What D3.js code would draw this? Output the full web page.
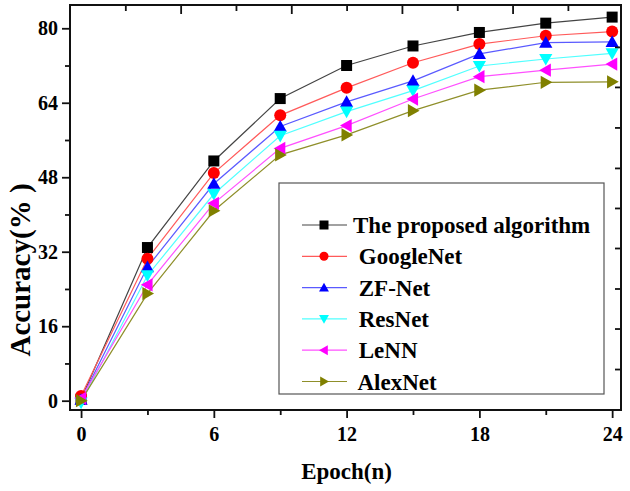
<!DOCTYPE html>
<html><head><meta charset="utf-8">
<script src="https://cdn.jsdelivr.net/npm/d3@7"></script>
<style>body{margin:0;background:#fff}svg{display:block}</style>
</head><body>
<svg id="c" width="630" height="491"></svg>
<script>
const epochs = [0, 3, 6, 9, 12, 15, 18, 21, 24];
const seriesNames = ["The proposed algorithm", " GoogleNet", " ZF-Net", " ResNet", " LeNN", " AlexNet"];
const proposed = [0.3, 32.9, 51.5, 64.9, 72.0, 76.2, 79.1, 81.1, 82.4];
const googleNet = [1.0, 30.5, 48.9, 61.3, 67.2, 72.6, 76.6, 78.4, 79.3];
const zfNet = [0.2, 28.7, 46.6, 58.9, 64.2, 68.7, 74.5, 76.9, 77.1];
const resNet = [-0.4, 26.9, 44.4, 56.9, 62.1, 66.6, 71.9, 73.4, 74.6];
const leNN = [0.5, 24.9, 42.4, 54.2, 59.1, 64.8, 69.6, 71.0, 72.3];
const alexNet = [0.0, 23.0, 40.8, 52.8, 57.1, 62.3, 66.7, 68.4, 68.5];
const xTickVals = [0, 6, 12, 18, 24];
const xMinorVals = [3, 9, 15, 21];
const yTickVals = [0, 16, 32, 48, 64, 80];
const yMinorVals = [8, 24, 40, 56, 72];
const topTickVals = [2, 4.5, 7, 9.5, 12, 14.5, 17, 19.5, 22];
const rightTickVals = [76.0, 67.4, 58.7, 50.0, 41.4, 32.8, 24.1, 15.5, 6.8];

const colors = ["#000000", "#ff0000", "#0000ff", "#00ffff", "#ff00ff", "#808000"];
const lineColors = ["#444444", "#ff5a5a", "#5a5aff", "#50ffff", "#ff50ff", "#8f8f2a"];
const symbols = ["square", "circle", "up", "down", "left", "right"];
const allSeries = [proposed, googleNet, zfNet, resNet, leNN, alexNet];

const svg = d3.select("#c");
const L = 70, T = 5, R = 621, B = 410;
const x = d3.scaleLinear().domain([-0.5, 24.4]).range([L, R]);
const y = d3.scaleLinear().domain([-2, 85]).range([B, T]);
const font = "'Liberation Serif','Times New Roman',serif";

function markerPath(type, s) {
  const h = s / 2;
  switch (type) {
    case "square": return `M${-h},${-h}H${h}V${h}H${-h}Z`;
    case "circle": return d3.symbol(d3.symbolCircle, Math.PI * h * h)();
    case "up": return `M0,${-h * 1.1}L${h * 1.1},${h * 0.85}L${-h * 1.1},${h * 0.85}Z`;
    case "down": return `M0,${h * 1.1}L${h * 1.1},${-h * 0.85}L${-h * 1.1},${-h * 0.85}Z`;
    case "left": return `M${-h * 1.1},0L${h * 0.85},${-h * 1.1}L${h * 0.85},${h * 1.1}Z`;
    case "right": return `M${h * 1.1},0L${-h * 0.85},${-h * 1.1}L${-h * 0.85},${h * 1.1}Z`;
  }
}

// series
const line = d3.line().x((d, i) => x(epochs[i])).y(d => y(d));
allSeries.forEach((vals, k) => {
  svg.append("path").attr("d", line(vals)).attr("fill", "none")
    .attr("stroke", lineColors[k]).attr("stroke-width", 1.2);
});
allSeries.forEach((vals, k) => {
  svg.append("g").selectAll("path").data(vals).join("path")
    .attr("transform", (d, i) => `translate(${x(epochs[i])},${y(d)})`)
    .attr("d", markerPath(symbols[k], k === 0 ? 11 : 12))
    .attr("fill", colors[k]);
});

// bottom axis
const bottom = svg.append("g").attr("transform", `translate(0,${B})`)
  .call(d3.axisBottom(x).tickValues(xTickVals).tickSize(8).tickPadding(4).tickFormat(d3.format("d")));
svg.append("g").attr("transform", `translate(0,${B})`)
  .call(d3.axisBottom(x).tickValues(xMinorVals).tickSize(5).tickFormat(""));
// left axis
const left = svg.append("g").attr("transform", `translate(${L},0)`)
  .call(d3.axisLeft(y).tickValues(yTickVals).tickSize(8).tickPadding(4).tickFormat(d3.format("d")));
svg.append("g").attr("transform", `translate(${L},0)`)
  .call(d3.axisLeft(y).tickValues(yMinorVals).tickSize(5).tickFormat(""));
// top axis (inward ticks)
svg.append("g").attr("transform", `translate(0,${T})`)
  .call(d3.axisTop(x).tickValues(topTickVals).tickSizeInner(-9).tickSizeOuter(0).tickFormat(""))
  .selectAll(".tick line").attr("y2", (d, i) => i % 2 === 1 ? 9 : 6);
// right axis (inward ticks)
svg.append("g").attr("transform", `translate(${R},0)`)
  .call(d3.axisRight(y).tickValues(rightTickVals).tickSizeInner(-6).tickSizeOuter(0).tickFormat(""));

svg.selectAll(".domain").remove();
svg.selectAll(".tick line").attr("stroke", "#111").attr("stroke-width", 1.8);
svg.selectAll(".tick text").attr("font-family", font).attr("font-weight", "bold")
  .attr("font-size", 20).attr("fill", "#000");
bottom.selectAll(".tick text").attr("dy", "0.95em");

// frame
svg.append("rect").attr("x", L).attr("y", T).attr("width", R - L).attr("height", B - T)
  .attr("fill", "none").attr("stroke", "#111").attr("stroke-width", 2);

// axis titles
svg.append("text").attr("x", (x(0) + x(24)) / 2).attr("y", 479).attr("text-anchor", "middle")
  .attr("font-family", font).attr("font-weight", "bold").attr("font-size", 23).text("Epoch(n)");
svg.append("text").attr("transform", "translate(30,270) rotate(-90)").attr("text-anchor", "middle")
  .attr("font-family", font).attr("font-weight", "bold").attr("font-size", 29)
  .style("white-space", "pre").text("Accuracy(% )");

// legend
const lg = svg.append("g");
lg.append("rect").attr("x", 279).attr("y", 183).attr("width", 325).attr("height", 211)
  .attr("fill", "#fff").attr("stroke", "#555").attr("stroke-width", 1.2);
seriesNames.forEach((name, k) => {
  const cy = 225 + k * 31.3;
  lg.append("line").attr("x1", 302).attr("x2", 347).attr("y1", cy).attr("y2", cy)
    .attr("stroke", lineColors[k]).attr("stroke-width", 1.2);
  lg.append("path").attr("transform", `translate(324,${cy})`)
    .attr("d", markerPath(symbols[k], 9)).attr("fill", colors[k]);
  lg.append("text").attr("x", 353).attr("y", cy).attr("dy", "0.35em")
    .attr("font-family", font).attr("font-weight", "bold").attr("font-size", 23)
    .attr("xml:space", "preserve").style("white-space", "pre").text(name);
});
</script>
</body></html>
